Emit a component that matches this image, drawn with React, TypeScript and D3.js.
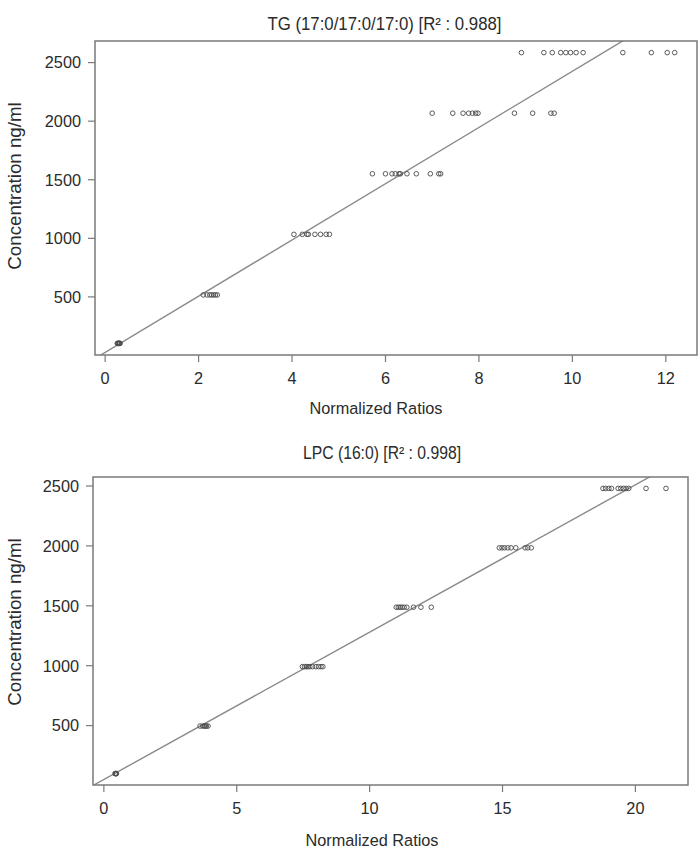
import React from 'react';
import * as d3 from 'd3';

// ---------- data ----------
const tgTitle = 'TG (17:0/17:0/17:0) [R² : 0.988]';
const tgConcentrations = [103.4, 517, 1034, 1551, 2068, 2585];
const tgRatios = [
  [0.26, 0.27, 0.28, 0.29, 0.3, 0.31, 0.32],
  [2.1, 2.18, 2.24, 2.28, 2.32, 2.36, 2.4],
  [4.04, 4.22, 4.32, 4.35, 4.49, 4.61, 4.73, 4.8],
  [5.72, 6.0, 6.14, 6.21, 6.29, 6.32, 6.46, 6.66, 6.96, 7.14, 7.18],
  [7.0, 7.44, 7.66, 7.78, 7.86, 7.93, 7.98, 8.76, 9.15, 9.54, 9.61],
  [8.91, 9.39, 9.57, 9.75, 9.86, 9.96, 10.08, 10.23, 11.08, 11.69, 12.03, 12.19],
];
const tgFit = [26, 240]; // intercept, slope
const tgXTicks = [0, 2, 4, 6, 8, 10, 12];

const lpcTitle = 'LPC (16:0) [R² : 0.998]';
const lpcConcentrations = [99.2, 496, 992, 1488, 1984, 2480];
const lpcRatios = [
  [0.42, 0.44, 0.45, 0.46, 0.47],
  [3.62, 3.72, 3.78, 3.82, 3.86, 3.92],
  [7.47, 7.55, 7.62, 7.68, 7.75, 7.85, 7.98, 8.08, 8.17, 8.24],
  [11.0, 11.08, 11.15, 11.22, 11.3, 11.4, 11.65, 11.93, 12.32],
  [14.88, 14.98, 15.08, 15.2, 15.32, 15.5, 15.85, 15.95, 16.08],
  [18.78, 18.88, 19.0, 19.1, 19.35, 19.45, 19.55, 19.65, 19.75, 20.4, 21.15],
];
const lpcFit = [50, 123];
const lpcXTicks = [0, 5, 10, 15, 20];

const yTicks = [500, 1000, 1500, 2000, 2500];
const xLabel = 'Normalized Ratios';
const yLabel = 'Concentration ng/ml';

const FONT = '"Liberation Sans", Arial, Helvetica, sans-serif';
const TEXT = '#2b2b2b';
const BOX = '#7a7a7a';

function expand(ext: [number, number]): [number, number] {
  const pad = (ext[1] - ext[0]) * 0.04;
  return [ext[0] - pad, ext[1] + pad];
}

type PanelProps = {
  id: string;
  title: string;
  conc: number[];
  ratios: number[][];
  fit: number[];
  xTicks: number[];
  left: number;
  right: number;
  top: number;
  bottom: number;
  titleX: number;
  titleY: number;
  titleLen: number;
  xLabelX: number;
  xLabelY: number;
  yLabelY: number;
};

function Panel(p: PanelProps) {
  const pts = p.ratios.flatMap((row, i) => row.map((r) => ({ x: r, y: p.conc[i] })));
  const x = d3
    .scaleLinear()
    .domain(expand(d3.extent(pts, (d) => d.x) as [number, number]))
    .range([p.left, p.right]);
  const y = d3
    .scaleLinear()
    .domain(expand(d3.extent(pts, (d) => d.y) as [number, number]))
    .range([p.bottom, p.top]);
  const [x0, x1] = x.domain();
  const line = d3.line<number>()
    .x((v) => x(v))
    .y((v) => y(p.fit[0] + p.fit[1] * v));
  return (
    <g>
      <defs>
        <clipPath id={p.id}>
          <rect x={p.left} y={p.top} width={p.right - p.left} height={p.bottom - p.top} />
        </clipPath>
      </defs>
      <text
        x={p.titleX}
        y={p.titleY}
        textAnchor="middle"
        fontSize={18}
        fill={TEXT}
        fontFamily={FONT}
        textLength={p.titleLen}
        lengthAdjust="spacingAndGlyphs"
      >
        {p.title}
      </text>
      <path d={line([x0, x1]) || ''} stroke="#8a8a8a" strokeWidth={1.4} fill="none" clipPath={`url(#${p.id})`} />
      {pts.map((d, i) => (
        <circle key={i} cx={x(d.x)} cy={y(d.y)} r={2.3} fill="none" stroke="#4a4a4a" strokeWidth={0.9} />
      ))}
      <rect x={p.left} y={p.top} width={p.right - p.left} height={p.bottom - p.top} fill="none" stroke={BOX} strokeWidth={1.5} />
      {p.xTicks.map((t) => (
        <g key={t}>
          <line x1={x(t)} x2={x(t)} y1={p.bottom} y2={p.bottom + 7} stroke={BOX} strokeWidth={1.2} />
          <text x={x(t)} y={p.bottom + 29} textAnchor="middle" fontSize={16.3} fill={TEXT} fontFamily={FONT}>
            {t}
          </text>
        </g>
      ))}
      {yTicks.map((t) => (
        <g key={t}>
          <line x1={p.left - 7} x2={p.left} y1={y(t)} y2={y(t)} stroke={BOX} strokeWidth={1.2} />
          <text x={p.left - 14} y={y(t)} dy="0.36em" textAnchor="end" fontSize={16.3} fill={TEXT} fontFamily={FONT}>
            {t}
          </text>
        </g>
      ))}
      <text x={p.xLabelX} y={p.xLabelY} textAnchor="middle" fontSize={16.3} fill={TEXT} fontFamily={FONT}>
        {xLabel}
      </text>
      <text
        transform={`translate(20.5,${p.yLabelY}) rotate(-90)`}
        textAnchor="middle"
        fontSize={18.7}
        fill={TEXT}
        fontFamily={FONT}
      >
        {yLabel}
      </text>
    </g>
  );
}

export default function App() {
  return (
    <svg width={700} height={851} style={{ position: 'absolute', left: 0, top: 0, background: '#fff' }}>
      <rect x={0} y={0} width={700} height={851} fill="#fff" />
      <Panel
        id="clipTG"
        title={tgTitle}
        conc={tgConcentrations}
        ratios={tgRatios}
        fit={tgFit}
        xTicks={tgXTicks}
        left={95}
        right={697}
        top={41}
        bottom={355}
        titleX={384.5}
        titleY={30}
        titleLen={234}
        xLabelX={376}
        xLabelY={414}
        yLabelY={186}
      />
      <Panel
        id="clipLPC"
        title={lpcTitle}
        conc={lpcConcentrations}
        ratios={lpcRatios}
        fit={lpcFit}
        xTicks={lpcXTicks}
        left={93}
        right={688}
        top={477}
        bottom={785}
        titleX={382}
        titleY={458.5}
        titleLen={158}
        xLabelX={372}
        xLabelY={846}
        yLabelY={622}
      />
    </svg>
  );
}
